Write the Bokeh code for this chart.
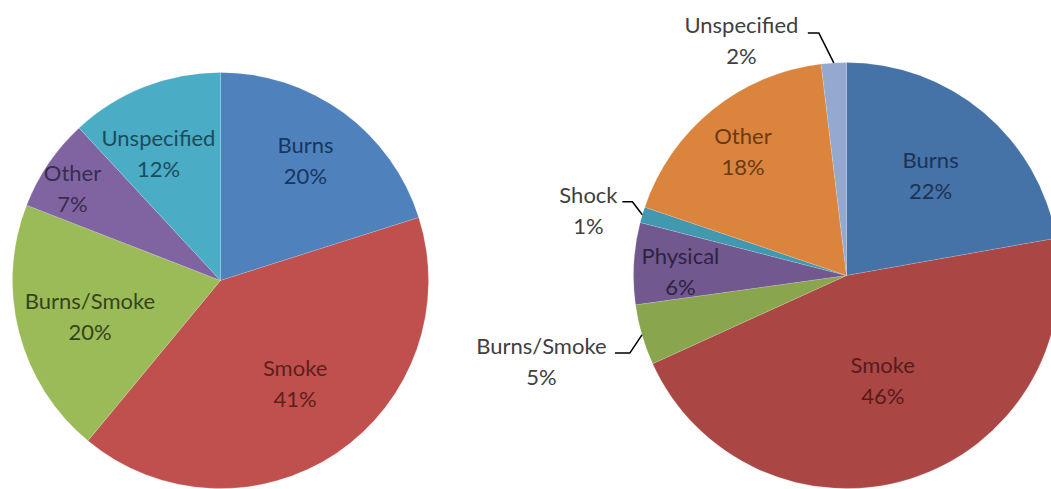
import math
from bokeh.plotting import figure
from bokeh.models import Range1d, ColumnDataSource
from bokeh.core.properties import value
from bokeh.embed import file_html
from bokeh.resources import INLINE

# ---------------- data ----------------
left_categories = ["Burns", "Smoke", "Burns/Smoke", "Other", "Unspecified"]
left_values = [20.1, 40.9, 19.9, 7.2, 11.9]

right_categories = ["Burns", "Smoke", "Burns/Smoke", "Physical", "Shock", "Other", "Unspecified"]
right_values = [22.2, 46.0, 4.6, 6.2, 1.2, 17.9, 1.9]

# ---------------- styles / layout ----------------
left_colors = ["#4F81BD", "#C0504D", "#9BBB59", "#8064A2", "#4BACC6"]
left_text_colors = ["#17375E", "#5E1F1D", "#36441A", "#3A2C4C", "#1A4C5A"]
left_label_r = [0.707, 0.61, 0.65, 0.84, 0.68]
left_label_da = [-0.9, -2.0, -0.5, -2.1, -4.6]

right_colors = ["#4572A7", "#AA4643", "#89A54E", "#71588F", "#4198AF", "#DB843D", "#93A9CF"]
right_text_colors = ["#1C3355", "#561C1B", "#404040", "#2E2340", "#404040", "#6B3A12", "#404040"]
right_label_r = [0.615, 0.52, 1.488, 0.78, 1.25, 0.76, 1.212]
right_label_da = [0.0, -1.8, 0.5, -1.8, -2.3, -0.7, -20.6]
# leader lines for outside labels: (elbow dx, elbow dy, horizontal length) in px, keyed by index
right_leaders = {2: (-12, 18, 15), 4: (-10, -13, 10), 6: (-15, -30, 11)}

W, H = 1051, 489
PAGE_H = 489

FONT = value("Lato")
FSIZE = "22px"
LINE_GAP = 15.5

p = figure(width=W, height=H, output_backend="svg", toolbar_location=None,
           x_range=Range1d(0, W), y_range=Range1d(PAGE_H - H, PAGE_H),
           x_axis_type=None, y_axis_type=None, min_border=0)
p.grid.visible = False
p.outline_line_color = None
p.background_fill_color = "white"
p.border_fill_color = "white"


def draw_pie(cx_px, cy_px, R, cats, vals, colors, tcolors, lr, lda, leaders=None):
    cy = PAGE_H - cy_px
    total = sum(vals)
    cum = [0.0]
    for v in vals:
        cum.append(cum[-1] + v / total)
    starts = [math.pi / 2 - 2 * math.pi * c for c in cum[:-1]]
    ends = [math.pi / 2 - 2 * math.pi * c for c in cum[1:]]
    src = ColumnDataSource(dict(start=starts, end=ends, color=colors))
    p.wedge(x=cx_px, y=cy, radius=R, start_angle="start", end_angle="end",
            direction="clock", fill_color="color", line_color="white",
            line_alpha=0.2, line_width=0.8, source=src)

    lx, ly, names, pcts, tc = [], [], [], [], []
    lxs, lys = [], []
    for i, v in enumerate(vals):
        mid = (cum[i] + cum[i + 1]) / 2 * 360.0
        a = math.radians(mid + lda[i])
        r = lr[i] * R
        lx.append(cx_px + r * math.sin(a))
        ly.append(cy + r * math.cos(a))
        names.append(cats[i])
        pcts.append(f"{round(v / total * 100)}%")
        tc.append(tcolors[i])
        if leaders and i in leaders:
            edx, edy, hl = leaders[i]
            am = math.radians(mid)
            ex = cx_px + R * math.sin(am)
            ey = cy + R * math.cos(am)
            bx, by = ex + edx, ey - edy
            lxs.append([bx - hl, bx, ex])
            lys.append([by, by, ey])
    lsrc = ColumnDataSource(dict(x=lx, y=ly, name=names, pct=pcts, color=tc))
    p.text(x="x", y="y", text="name", source=lsrc, text_align="center",
           text_baseline="middle", text_font=FONT, text_font_size=FSIZE,
           text_color="color", y_offset=-LINE_GAP)
    p.text(x="x", y="y", text="pct", source=lsrc, text_align="center",
           text_baseline="middle", text_font=FONT, text_font_size=FSIZE,
           text_color="color", y_offset=LINE_GAP)
    if lxs:
        p.multi_line(xs=lxs, ys=lys, line_color="black", line_width=1.5)


draw_pie(220, 280, 208, left_categories, left_values, left_colors, left_text_colors,
         left_label_r, left_label_da)
draw_pie(846, 275, 213, right_categories, right_values, right_colors, right_text_colors,
         right_label_r, right_label_da, right_leaders)

open("out.html", "w").write(file_html(p, INLINE))
